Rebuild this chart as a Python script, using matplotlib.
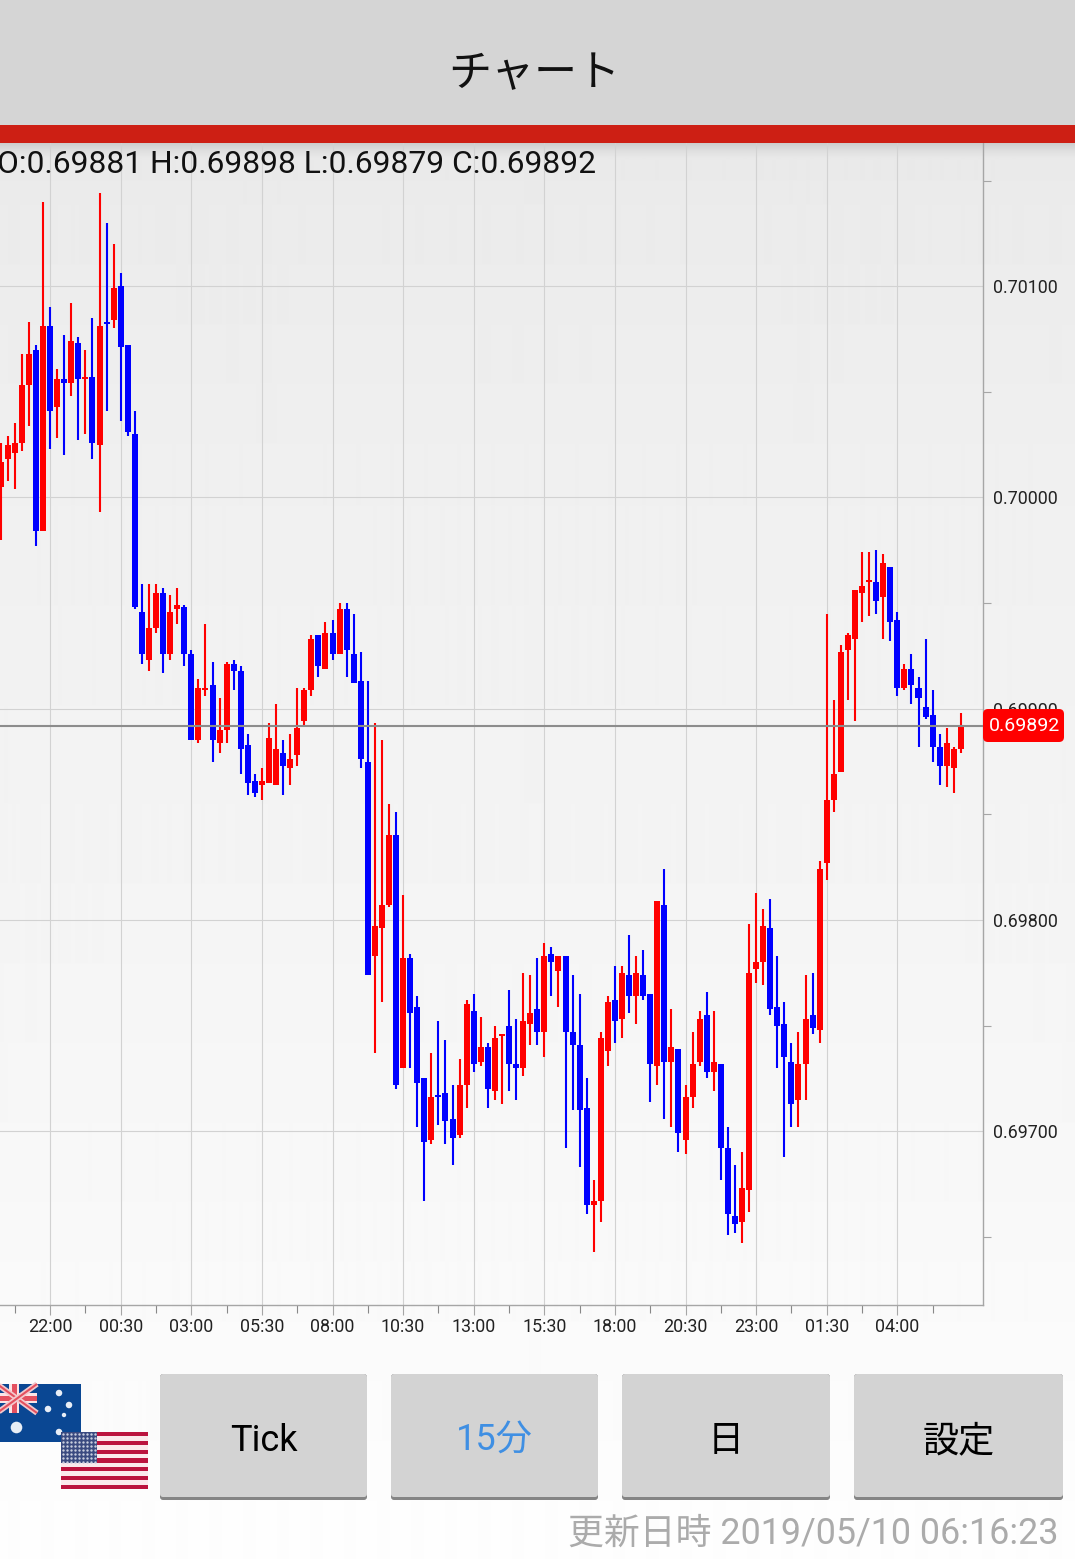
import numpy as np
import matplotlib
matplotlib.use("Agg")
import matplotlib.pyplot as plt
from matplotlib.patches import Rectangle, FancyBboxPatch

plt.rcParams["font.family"] = ["Roboto", "Noto Sans CJK JP"]

W, H = 1075, 1559

# AUD/USD 15 minute candles, prices in 0.00001 units
opens = [
    70005, 70018, 70021, 70026, 70053, 70070, 69984, 70081, 70043, 70056,
    70054, 70073, 70056, 70057, 70025, 70083, 70084, 70100, 70072, 70030,
    69946, 69923, 69938, 69955, 69926, 69947, 69948, 69926, 69885, 69909,
    69911, 69884, 69890, 69921, 69918, 69883, 69866, 69864, 69865, 69864,
    69879, 69872, 69878, 69894, 69909, 69935, 69919, 69936, 69926, 69947,
    69926, 69913, 69875, 69783, 69796, 69807, 69840, 69730, 69782, 69759,
    69725, 69696, 69717, 69718, 69706, 69698, 69722, 69757, 69733, 69740,
    69719, 69745, 69750, 69732, 69730, 69751, 69758, 69747, 69784, 69776,
    69783, 69747, 69741, 69711, 69665, 69667, 69738, 69762, 69753, 69774,
    69764, 69774, 69765, 69731, 69807, 69733, 69739, 69696, 69716, 69733,
    69755, 69728, 69732, 69692, 69660, 69657, 69672, 69777, 69780, 69796,
    69759, 69751, 69733, 69715, 69732, 69755, 69748, 69827, 69857, 69870,
    69928, 69933, 69955, 69960, 69960, 69953, 69967, 69942, 69910, 69919,
    69910, 69901, 69897, 69882, 69873, 69872, 69881,
]
highs = [
    70026, 70029, 70035, 70068, 70083, 70072, 70140, 70090, 70061, 70077,
    70092, 70076, 70070, 70085, 70144, 70130, 70120, 70106, 70072, 70041,
    69959, 69959, 69959, 69957, 69954, 69957, 69949, 69928, 69914, 69940,
    69922, 69905, 69922, 69923, 69920, 69888, 69869, 69872, 69893, 69902,
    69885, 69888, 69910, 69910, 69935, 69935, 69941, 69942, 69950, 69950,
    69945, 69927, 69913, 69893, 69885, 69855, 69851, 69812, 69784, 69764,
    69725, 69737, 69752, 69743, 69722, 69734, 69762, 69765, 69754, 69742,
    69750, 69746, 69767, 69753, 69775, 69774, 69782, 69789, 69787, 69783,
    69783, 69774, 69765, 69725, 69677, 69747, 69764, 69778, 69778, 69793,
    69783, 69786, 69765, 69809, 69824, 69758, 69739, 69722, 69747, 69757,
    69766, 69757, 69732, 69702, 69684, 69690, 69798, 69813, 69805, 69810,
    69783, 69761, 69742, 69747, 69774, 69775, 69828, 69945, 69904, 69930,
    69936, 69956, 69974, 69974, 69975, 69973, 69967, 69946, 69921, 69926,
    69915, 69933, 69909, 69888, 69891, 69882, 69898,
]
lows = [
    69980, 70008, 70004, 70022, 70034, 69977, 69984, 70023, 70028, 70020,
    70048, 70027, 70030, 70018, 69993, 70041, 70080, 70036, 70029, 69947,
    69921, 69918, 69936, 69917, 69923, 69940, 69920, 69885, 69884, 69906,
    69875, 69879, 69884, 69909, 69869, 69859, 69858, 69857, 69865, 69864,
    69859, 69864, 69873, 69892, 69906, 69915, 69919, 69923, 69926, 69915,
    69912, 69872, 69774, 69737, 69761, 69806, 69720, 69730, 69730, 69702,
    69667, 69694, 69703, 69694, 69684, 69697, 69711, 69728, 69731, 69711,
    69715, 69713, 69719, 69715, 69726, 69741, 69741, 69735, 69764, 69759,
    69692, 69710, 69683, 69661, 69643, 69657, 69731, 69742, 69744, 69756,
    69751, 69762, 69714, 69722, 69706, 69702, 69690, 69689, 69711, 69731,
    69725, 69719, 69677, 69651, 69652, 69647, 69662, 69770, 69769, 69755,
    69730, 69688, 69702, 69702, 69715, 69746, 69742, 69819, 69851, 69870,
    69904, 69894, 69941, 69944, 69945, 69933, 69932, 69906, 69909, 69902,
    69882, 69895, 69875, 69864, 69863, 69860, 69879,
]
closes = [
    70017, 70025, 70026, 70053, 70068, 69984, 70081, 70041, 70056, 70054,
    70074, 70056, 70057, 70026, 70081, 70082, 70099, 70071, 70031, 69948,
    69926, 69938, 69955, 69926, 69946, 69949, 69926, 69885, 69910, 69910,
    69885, 69890, 69921, 69918, 69881, 69865, 69860, 69866, 69886, 69881,
    69873, 69876, 69891, 69909, 69933, 69920, 69936, 69926, 69947, 69928,
    69912, 69876, 69774, 69797, 69807, 69840, 69722, 69782, 69756, 69723,
    69695, 69716, 69716, 69705, 69697, 69722, 69760, 69732, 69740, 69720,
    69744, 69746, 69732, 69730, 69752, 69756, 69747, 69783, 69780, 69783,
    69747, 69741, 69710, 69665, 69667, 69744, 69761, 69752, 69775, 69764,
    69775, 69764, 69732, 69809, 69733, 69740, 69699, 69716, 69732, 69753,
    69728, 69733, 69692, 69661, 69656, 69673, 69775, 69780, 69797, 69758,
    69750, 69735, 69713, 69732, 69753, 69749, 69824, 69857, 69869, 69927,
    69935, 69956, 69958, 69961, 69951, 69969, 69941, 69910, 69919, 69911,
    69905, 69896, 69882, 69873, 69884, 69881, 69892,
]

time_labels = ["22:00", "00:30", "03:00", "05:30", "08:00", "10:30", "13:00",
               "15:30", "18:00", "20:30", "23:00", "01:30", "04:00"]
time_ticks = [7, 17, 27, 37, 47, 57, 67, 77, 87, 97, 107, 117, 127]
minor_time_ticks = [2, 12, 22, 32, 42, 52, 62, 72, 82, 92, 102, 112, 122, 132]
price_ticks = [0.69700, 0.69800, 0.69900, 0.70000, 0.70100]
minor_price_ticks = [0.69650, 0.69750, 0.69850, 0.69950, 0.70050, 0.70150]
buttons = ["Tick", "15分", "日", "設定"]
button_spans = [(160, 367), (391, 598), (622, 830), (854, 1063)]
button_colors = ["#000000", "#3f8fe3", "#000000", "#000000"]

UP, DOWN = "#ff0000", "#0000ff"
GRID = "#d2d2d2"
AXIS = "#a6a6a6"

fig = plt.figure(figsize=(W / 100, H / 100), dpi=100)

# page background, gets lighter towards the bottom
bg = fig.add_axes([0, 0, 1, 1], zorder=0)
ys = np.arange(H)
shade = np.interp(ys, [143, 150, 158, 200, 500, 800, 1200, 1500, 1559],
                  [205, 222, 233, 235, 240, 243, 248, 253, 254])
bg.imshow(shade[:, None], cmap="gray", vmin=0, vmax=255, aspect="auto",
          extent=(0, W, H, 0), interpolation="bilinear")
bg.set_axis_off()

# candle chart
ax = fig.add_axes([0, 1 - 1305 / H, 983 / W, (1305 - 143) / H], zorder=1)
ax.patch.set_alpha(0)
ax.set_xlim(-0.1, 139.136)
ax.set_ylim(0.6961776, 0.7016776)

idx = np.arange(len(opens))
o = np.array(opens) / 1e5
h = np.array(highs) / 1e5
l = np.array(lows) / 1e5
c = np.array(closes) / 1e5
cols = [UP if b >= a else DOWN for a, b in zip(o, c)]

ax.set_axisbelow(True)
ax.set_xticks(time_ticks)
ax.set_xticklabels(time_labels)
ax.set_xticks(minor_time_ticks, minor=True)
ax.set_yticks(price_ticks)
ax.set_yticklabels([f"{p:.5f}" for p in price_ticks])
ax.set_yticks(minor_price_ticks, minor=True)
ax.grid(True, which="major", color=GRID, lw=0.8)
ax.yaxis.tick_right()
ax.tick_params(axis="x", which="major", length=7, width=0.8, color=AXIS,
               labelsize=12.9, pad=2.2, labelcolor="#222222")
ax.tick_params(axis="x", which="minor", length=5.5, width=0.8, color="#888888")
ax.tick_params(axis="y", which="major", length=0, labelsize=12.9, pad=7,
               labelcolor="#222222")
ax.tick_params(axis="y", which="minor", length=5.8, width=0.8, color=AXIS)
for side in ["left", "top"]:
    ax.spines[side].set_visible(False)
for side in ["right", "bottom"]:
    ax.spines[side].set_color(AXIS)
    ax.spines[side].set_linewidth(1)

ax.vlines(idx, l, h, colors=cols, lw=1.5, zorder=3)
ax.bar(idx, np.abs(c - o), bottom=np.minimum(o, c), width=0.85, color=cols,
       linewidth=0, zorder=4)
ax.axhline(c[-1], color="#8c8c8c", lw=1.5, zorder=5)

# app chrome drawn in pixel coordinates
ui = fig.add_axes([0, 0, 1, 1], zorder=2)
ui.set_xlim(0, W)
ui.set_ylim(H, 0)
ui.set_axis_off()
ui.patch.set_alpha(0)

ui.add_patch(Rectangle((0, 0), W, 125, color="#d5d5d5", lw=0))
ui.add_patch(Rectangle((0, 125), W, 18, color="#cd1f14", lw=0))
ui.text(534, 75, "チャート", fontsize=31, ha="center", va="center", color="#111111")
ui.text(-3, 164, f"O:{o[-1]:.5f} H:{h[-1]:.5f} L:{l[-1]:.5f} C:{c[-1]:.5f}",
        fontsize=22.9, ha="left", va="center", color="#111111")

# last price tag
ui.add_patch(FancyBboxPatch((986, 712), 75, 27, boxstyle="round,pad=3,rounding_size=5",
                            fc="#ff0000", ec="none"))
ui.text(1024, 725.5, f"{c[-1]:.5f}", fontsize=14, color="white", ha="center", va="center")

# buttons
for label, (x0, x1), col in zip(buttons, button_spans, button_colors):
    ui.add_patch(FancyBboxPatch((x0 + 2, 1376), x1 - x0 - 4, 122, boxstyle="round,pad=2,rounding_size=3",
                                fc="#858585", ec="none"))
    ui.add_patch(FancyBboxPatch((x0 + 2, 1376), x1 - x0 - 4, 119, boxstyle="round,pad=2,rounding_size=3",
                                fc="#d3d3d3", ec="none"))
    ui.text((x0 + x1) / 2, 1441, label, fontsize=26, color=col, ha="center", va="center")

ui.text(1059, 1534, "更新日時 2019/05/10 06:16:23", fontsize=25.8, color="#ababab",
        ha="right", va="center")

# australian flag
ui.add_patch(Rectangle((0, 1384), 81, 58, color="#0a4793", lw=0))
for pts in ([(-3, 1384), (37, 1413)], [(37, 1384), (-3, 1413)]):
    ui.plot(*zip(*pts), color="#f3c9cd", lw=4, solid_capstyle="butt")
    ui.plot(*zip(*pts), color="#e4505f", lw=1.5, solid_capstyle="butt")
ui.add_patch(Rectangle((9, 1384), 10, 29, color="#fbe4e6", lw=0))
ui.add_patch(Rectangle((0, 1393), 37, 10, color="#fbe4e6", lw=0))
ui.add_patch(Rectangle((11.5, 1384), 5, 29, color="#e4505f", lw=0))
ui.add_patch(Rectangle((0, 1395.5), 37, 5, color="#e4505f", lw=0))
ui.scatter([59, 69, 48, 64, 59], [1393, 1405, 1409, 1415, 1432], s=[22, 22, 22, 10, 22],
           color="#e8eef6", linewidths=0)
ui.scatter([15.5], [1427], s=70, color="#e8eef6", linewidths=0)

# american flag
stripe_h = (1489 - 1432) / 13
for n in range(13):
    ui.add_patch(Rectangle((61, 1432 + n * stripe_h), 87, stripe_h + 0.2,
                           color="#bb133e" if n % 2 == 0 else "#fbe9ec", lw=0))
ui.add_patch(Rectangle((61, 1432), 36, 31, color="#3a4a80", lw=0))
star_x, star_y = np.meshgrid(np.arange(63, 97, 4), np.arange(1434, 1463, 4))
ui.scatter(star_x.ravel(), star_y.ravel(), s=3, color="#c9cede", linewidths=0)

fig.savefig("out.png", dpi=100)
